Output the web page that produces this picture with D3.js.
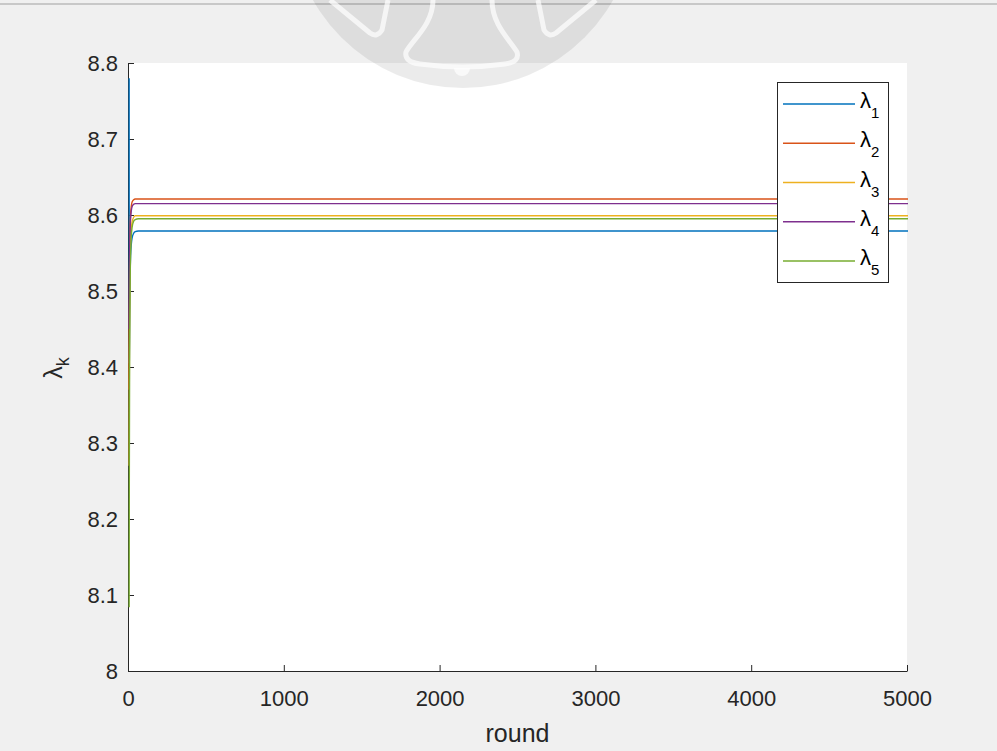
<!DOCTYPE html>
<html>
<head>
<meta charset="utf-8">
<script src="https://cdnjs.cloudflare.com/ajax/libs/d3/7.8.5/d3.min.js"></script>
<style>
  body{margin:0;background:#f0f0f0;}
  svg{display:block;}
  .tick text{font-family:"Liberation Sans",Arial,sans-serif;fill:#262626;}
</style>
</head>
<body>
<div id="container"></div>
<script>
// rounds sampled for every series
const rounds=[1,2,4,7,10,15,20,30,40,60,100,5000];
const lambda1=[8.78,8.405,8.47,8.52,8.545,8.562,8.570,8.576,8.578,8.579,8.579,8.579];
const lambda2=[8.37,8.45,8.53,8.58,8.600,8.612,8.617,8.620,8.621,8.621,8.621,8.621];
const lambda3=[8.27,8.38,8.48,8.54,8.565,8.583,8.591,8.597,8.599,8.599,8.599,8.599];
const lambda4=[8.45,8.50,8.55,8.58,8.595,8.606,8.611,8.614,8.615,8.615,8.615,8.615];
const lambda5=[8.084,8.25,8.42,8.51,8.545,8.573,8.584,8.592,8.594,8.595,8.595,8.595];
const seriesNames=['1','2','3','4','5'];
const xTicks=[0,1000,2000,3000,4000,5000];
const yTicks=[8,8.1,8.2,8.3,8.4,8.5,8.6,8.7,8.8];

const colors=['#0072BD','#D95319','#EDB120','#7E2F8E','#77AC30'];
const allSeries=[lambda1,lambda2,lambda3,lambda4,lambda5];
const font='"Liberation Sans",Arial,sans-serif';

const width=997, height=751;
const padL=128, padR=907, padT=63, padB=671;

const svg=d3.select('#container').append('svg')
   .attr('width',width).attr('height',height);

svg.append('rect').attr('width',width).attr('height',height).attr('fill','#f0f0f0');
svg.append('line').attr('x1',0).attr('x2',width).attr('y1',4).attr('y2',4)
   .attr('stroke','#a0a0a0').attr('stroke-width',1.2);

svg.append('rect').attr('x',padL).attr('y',padT)
   .attr('width',padR-padL).attr('height',padB-padT).attr('fill','#fff');

const xScale=d3.scaleLinear().domain([0,5000]).range([padL,padR]);
const yScale=d3.scaleLinear().domain([8,8.8]).range([padB,padT]);

const xAxis=d3.axisBottom(xScale).tickValues(xTicks).tickSizeInner(-6).tickSizeOuter(0).tickPadding(19)
   .tickFormat(d3.format('d'));
const yAxis=d3.axisLeft(yScale).tickValues(yTicks).tickSizeInner(-6).tickSizeOuter(0).tickPadding(10)
   .tickFormat(d=> d===8 ? '8' : d.toFixed(1));

const gx=svg.append('g').attr('transform',`translate(0,${padB})`).call(xAxis);
const gy=svg.append('g').attr('transform',`translate(${padL},0)`).call(yAxis);
[gx,gy].forEach(g=>{
  g.selectAll('path,line').attr('stroke','#262626');
  g.selectAll('text').style('font-size','22px');
});

const line=d3.line()
   .x((d,i)=> xScale(rounds[i])+1)
   .y(d=> yScale(d))
   .curve(d3.curveMonotoneX);

svg.selectAll('path.series')
   .data(allSeries)
   .enter()
   .append('path')
   .attr('class','series')
   .attr('d',line)
   .attr('fill','none')
   .attr('stroke',(d,i)=> colors[i])
   .attr('stroke-width',1.4);

svg.append('text')
   .attr('x',(padL+padR)/2).attr('y',742)
   .attr('text-anchor','middle')
   .style('font-family',font)
   .style('font-size','25px').attr('fill','#262626')
   .text('round');

const ylab=svg.append('text')
   .attr('transform','translate(62,368) rotate(-90)')
   .attr('text-anchor','middle')
   .style('font-family',font)
   .style('font-size','25px').attr('fill','#262626');
ylab.append('tspan').text('λ');
ylab.append('tspan').attr('dy',7).style('font-size','18px').text('k');

// legend
const lg=svg.append('g');
lg.append('rect').attr('x',777.5).attr('y',82.5).attr('width',111).attr('height',200)
   .attr('fill','#fff').attr('stroke','#262626').attr('stroke-width',1);
const rowY=d3.scaleLinear().domain([0,4]).range([104,261]);
seriesNames.forEach((n,i)=>{
  lg.append('line').attr('x1',783).attr('x2',855).attr('y1',rowY(i)).attr('y2',rowY(i))
    .attr('stroke',colors[i]).attr('stroke-width',1.4);
  const t=lg.append('text').attr('x',860).attr('y',rowY(i)+4)
    .style('font-family',font)
    .style('font-size','22px').attr('fill','#000');
  t.append('tspan').text('λ');
  t.append('tspan').attr('dy',10).style('font-size','15px').text(n);
});

// watermark
const wm=svg.append('g');
wm.append('circle').attr('cx',463).attr('cy',-84).attr('r',172)
   .attr('fill','#000').attr('opacity',0.08);
const bells=[
  'M433,0 C433,25 412,40 406,52 Q404,62 420,64 Q462,70 505,64 Q520,62 517,52 C510,40 492,25 492,0',
  'M330,0 L370,33 Q377,38 382,30 L388,0',
  'M596,0 L556,33 Q549,38 544,30 L538,0'
];
wm.selectAll('path').data(bells).enter().append('path')
   .attr('d',d=>d).attr('fill','none').attr('stroke','#fff')
   .attr('stroke-width',5).attr('stroke-linejoin','round').attr('opacity',0.7);
wm.append('path').attr('d','M454,68 A8,8 0 0 0 470,68 Z').attr('fill','#fff').attr('opacity',0.7);
</script>
</body>
</html>
